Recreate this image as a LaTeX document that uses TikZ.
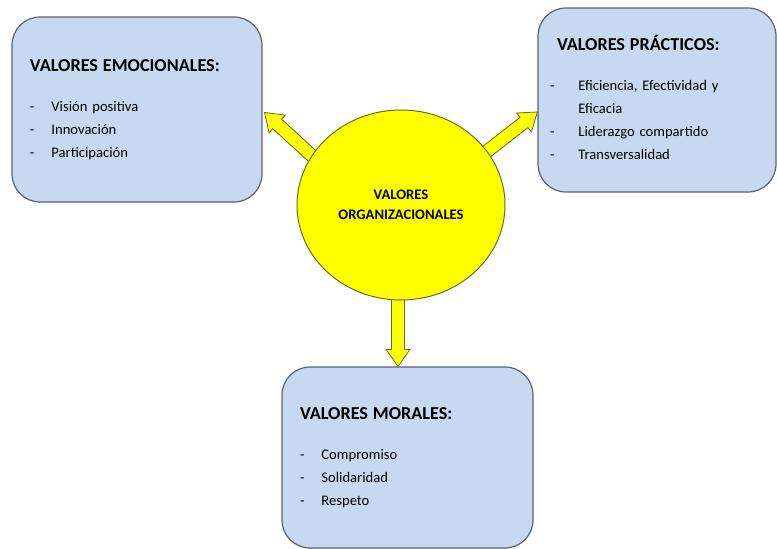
\documentclass[tikz,border=0pt]{standalone}
\usepackage{fontspec}
\setmainfont{Carlito}
\usepackage{xcolor}
\usepackage{tikz}
\usetikzlibrary{shapes.geometric}
\usetikzlibrary{calc}
\usetikzlibrary{backgrounds}

\definecolor{cajaazul}{RGB}{198,217,241}
\definecolor{bordegris}{RGB}{88,98,112}
\definecolor{amarillo}{RGB}{255,255,0}
\definecolor{bordeoliva}{RGB}{105,105,35}

% flecha de bloque entre dos puntos con nombre
\newcommand{\valflecha}[2]{%
  \path (#2) coordinate (tip) ($(#2)!17pt!(#1)$) coordinate (neck);
  \draw[flecha] ($(#1)!6.5pt!90:(tip)$) -- ($(neck)!6.5pt!90:(tip)$)
    -- ($(neck)!12pt!90:(tip)$) -- (tip) -- ($(neck)!12pt!-90:(tip)$)
    -- ($(neck)!6.5pt!-90:(tip)$) -- ($(#1)!6.5pt!-90:(tip)$) -- cycle;}

\newcommand{\titulo}[1]{\multicolumn{2}{@{}l@{}}{\bfseries\fontsize{18.2}{20}\selectfont #1}\\[17pt]}

\begin{document}
\begin{tikzpicture}[x=1pt, y=-1pt,
    caja/.style={draw=bordegris, fill=cajaazul, line width=1.2pt, rounded corners=28pt,
        inner xsep=18pt, align=left, font=\fontsize{14.6}{23}\selectfont},
    centro/.style={ellipse, draw=bordeoliva, fill=amarillo, line width=1pt,
        minimum width=208, minimum height=190, align=center,
        font=\bfseries\fontsize{14.6}{20}\selectfont},
    flecha/.style={draw=bordeoliva, fill=amarillo, line width=0.8pt, line join=miter}]
    \useasboundingbox (0,0) rectangle (777,549);

    % Valores organizacionales
    \node[centro] (org) at (401,205) {VALORES\\ORGANIZACIONALES};

    % Valores emocionales
    \node[caja, text width=214pt, minimum width=250, minimum height=185] (emo) at (137,109.5) {%
        \begin{tabular}{@{}l@{\hspace{17pt}}l@{}}
        \titulo{VALORES EMOCIONALES:}
        - & Visión positiva\\
        - & Innovación\\
        - & Participación
        \end{tabular}};

    % Valores practicos
    \node[caja, inner xsep=12pt, text width=214pt, minimum width=238, minimum height=184] (pra) at (657,100) {%
        \begin{tabular}{@{}l@{\hspace{24pt}}l@{}}
        \titulo{\hspace{7pt}VALORES PRÁCTICOS:}
        - & Eficiencia, Efectividad y\\
          & Eficacia\\
        - & Liderazgo compartido\\
        - & Transversalidad
        \end{tabular}};

    % Valores morales
    \node[caja, text width=215pt, minimum width=251, minimum height=181] (mor) at (407.5,457.5) {%
        \begin{tabular}{@{}l@{\hspace{17pt}}l@{}}
        \titulo{VALORES MORALES:}
        - & Compromiso\\
        - & Solidaridad\\
        - & Respeto
        \end{tabular}};

    % Flechas
    \coordinate (emoPunta) at ($(emo.east)+(2,3)$);
    \coordinate (emoBase) at ($(org.151)!-6pt!(emoPunta)$);
    \coordinate (praPunta) at ($(pra.west)+(0,12)$);
    \coordinate (praBase) at ($(org.32)!-6pt!(praPunta)$);
    \coordinate (morPunta) at ($(org.south |- mor.north)+(-3,0)$);
    \coordinate (morBase) at ($(org.south)+(-3,-6)$);
    \begin{scope}[on background layer]
        \valflecha{emoBase}{emoPunta}
        \valflecha{praBase}{praPunta}
        \valflecha{morBase}{morPunta}
    \end{scope}
\end{tikzpicture}
\end{document}
